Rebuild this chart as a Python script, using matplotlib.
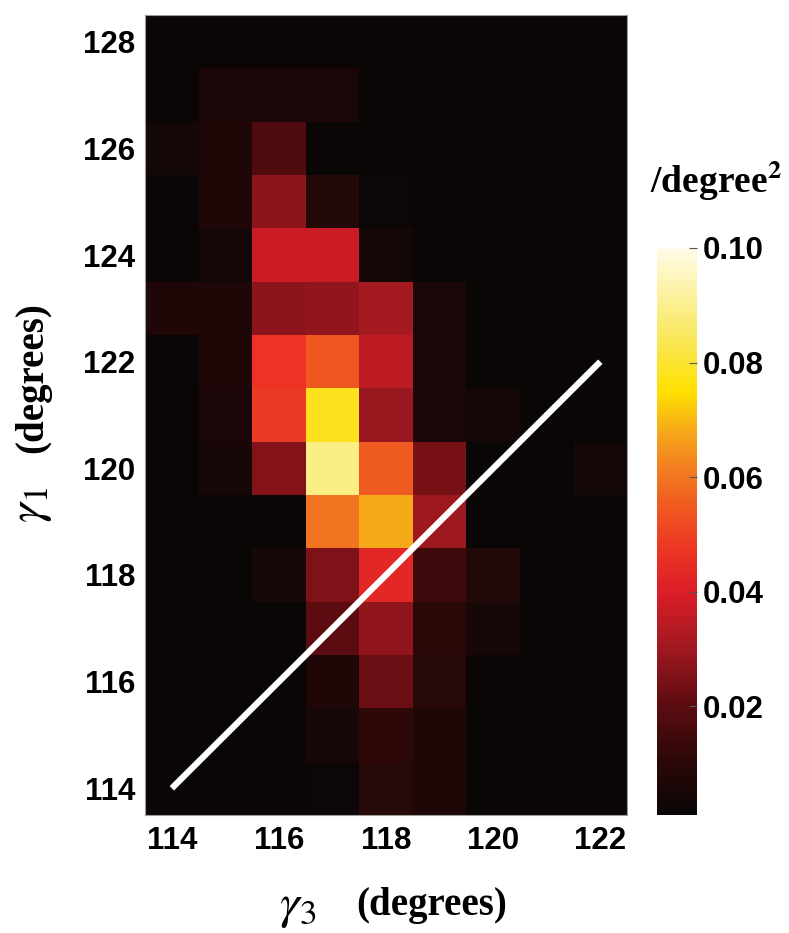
import numpy as np
import matplotlib
matplotlib.use("Agg")
import matplotlib.pyplot as plt
from matplotlib.colors import LinearSegmentedColormap, Normalize
from matplotlib.font_manager import FontProperties

plt.rcParams['mathtext.fontset'] = 'stix'

# ---- data ----
gamma3 = [114, 115, 116, 117, 118, 119, 120, 121, 122]          # x centres
gamma1_top_down = [128, 127, 126, 125, 124, 123, 122, 121, 120,
                   119, 118, 117, 116, 115, 114]                 # y centres (rows below)
density_top_down = [
    [0.001, 0.001, 0.001, 0.001, 0.001, 0.001, 0.001, 0.001, 0.001],  # 128
    [0.001, 0.006, 0.006, 0.006, 0.001, 0.001, 0.001, 0.001, 0.001],  # 127
    [0.004, 0.007, 0.018, 0.001, 0.001, 0.001, 0.001, 0.001, 0.001],  # 126
    [0.001, 0.007, 0.027, 0.008, 0.002, 0.001, 0.001, 0.001, 0.001],  # 125
    [0.001, 0.004, 0.037, 0.037, 0.004, 0.001, 0.001, 0.001, 0.001],  # 124
    [0.007, 0.007, 0.027, 0.028, 0.031, 0.006, 0.001, 0.001, 0.001],  # 123
    [0.001, 0.007, 0.047, 0.054, 0.035, 0.006, 0.001, 0.001, 0.001],  # 122
    [0.001, 0.006, 0.048, 0.078, 0.029, 0.006, 0.004, 0.001, 0.001],  # 121
    [0.001, 0.005, 0.026, 0.089, 0.055, 0.024, 0.001, 0.001, 0.004],  # 120
    [0.001, 0.001, 0.001, 0.060, 0.068, 0.030, 0.001, 0.001, 0.001],  # 119
    [0.001, 0.001, 0.005, 0.025, 0.043, 0.014, 0.008, 0.001, 0.001],  # 118
    [0.001, 0.001, 0.001, 0.020, 0.028, 0.010, 0.005, 0.001, 0.001],  # 117
    [0.001, 0.001, 0.001, 0.007, 0.022, 0.009, 0.001, 0.001, 0.001],  # 116
    [0.001, 0.001, 0.001, 0.005, 0.011, 0.007, 0.001, 0.001, 0.001],  # 115
    [0.001, 0.001, 0.001, 0.002, 0.009, 0.007, 0.001, 0.001, 0.001],  # 114
]
diag_line = [114, 122]
x_ticks = [114, 116, 118, 120, 122]
y_ticks = [114, 116, 118, 120, 122, 124, 126, 128]
cbar_ticks = [0.02, 0.04, 0.06, 0.08, 0.10]
vmin, vmax = 0.001, 0.1

# ---- colormap ----
nodes = [(0.001, '#0a0606'), (0.010, '#2a0808'), (0.020, '#5c0c10'),
         (0.030, '#a01820'), (0.040, '#dc1e28'), (0.047, '#ec3424'),
         (0.055, '#ef5a20'), (0.062, '#f28020'), (0.068, '#f6a81a'),
         (0.075, '#ffe000'), (0.085, '#f9e860'), (0.100, '#fffce8')]
cmap = LinearSegmentedColormap.from_list(
    'heat', [((v - vmin) / (vmax - vmin), c) for v, c in nodes])

x = np.array(gamma3, dtype=float)
y = np.array(gamma1_top_down[::-1], dtype=float)
Z = np.array(density_top_down[::-1])
xe = np.concatenate([x - 0.5, [x[-1] + 0.5]])
ye = np.concatenate([y - 0.5, [y[-1] + 0.5]])

fig = plt.figure(figsize=(7.89, 9.33), dpi=100)
ax = fig.add_axes([0.1838, 0.1265, 0.611, 0.8574])
norm = Normalize(vmin=vmin, vmax=vmax)
mesh = ax.pcolormesh(xe, ye, Z, cmap=cmap, norm=norm, shading='flat')
ax.plot(diag_line, diag_line, color='white', lw=4.5, solid_capstyle='butt')
ax.set_xlim(xe[0], xe[-1])
ax.set_ylim(ye[0], ye[-1])
ax.set_xticks(x_ticks)
ax.set_yticks(y_ticks)
ax.set_xticklabels([str(t) for t in x_ticks])
ax.set_yticklabels([str(t) for t in y_ticks])
tickfont = FontProperties(family='Liberation Sans', weight='bold', size=22.5)
for lab in ax.get_xticklabels() + ax.get_yticklabels():
    lab.set_fontproperties(tickfont)
ax.tick_params(axis='x', length=0, pad=8)
ax.tick_params(axis='y', length=0, pad=7)
for s in ax.spines.values():
    s.set_color('#9a9a9a')
    s.set_linewidth(0.8)

# axis labels (gamma symbol drawn larger than the "(degrees)" text)
labfont = dict(family='Liberation Serif', weight='bold', size=28)
fig.text(432 / 789, 1 - 905 / 933, '(degrees)', ha='center', va='center', **labfont)
fig.text(298 / 789, 1 - 906 / 933, r'$\gamma_{\mathit{3}}$', ha='center', va='center', size=36)
fig.text(33 / 789, 1 - 378 / 933, '(degrees)', ha='center', va='center',
         rotation=90, **labfont)
fig.text(30 / 789, 1 - 505 / 933, r'$\gamma_{\mathit{1}}$', ha='center', va='center',
         rotation=90, size=36)

cax = fig.add_axes([0.8327, 0.1265, 0.0507, 0.6077])
cb = fig.colorbar(mesh, cax=cax, ticks=cbar_ticks)
cb.outline.set_visible(False)
cb.ax.set_yticklabels(['%.2f' % t for t in cbar_ticks])
for lab in cb.ax.get_yticklabels():
    lab.set_fontproperties(tickfont)
cb.ax.tick_params(direction='in', length=6, width=0.8, color='#555555', pad=4)
fig.text(0.908, 0.806, r'/degree$^{\mathbf{2}}$', ha='center', va='center',
         family='Liberation Serif', weight='bold', size=27)

fig.savefig('out.png', dpi=100)
